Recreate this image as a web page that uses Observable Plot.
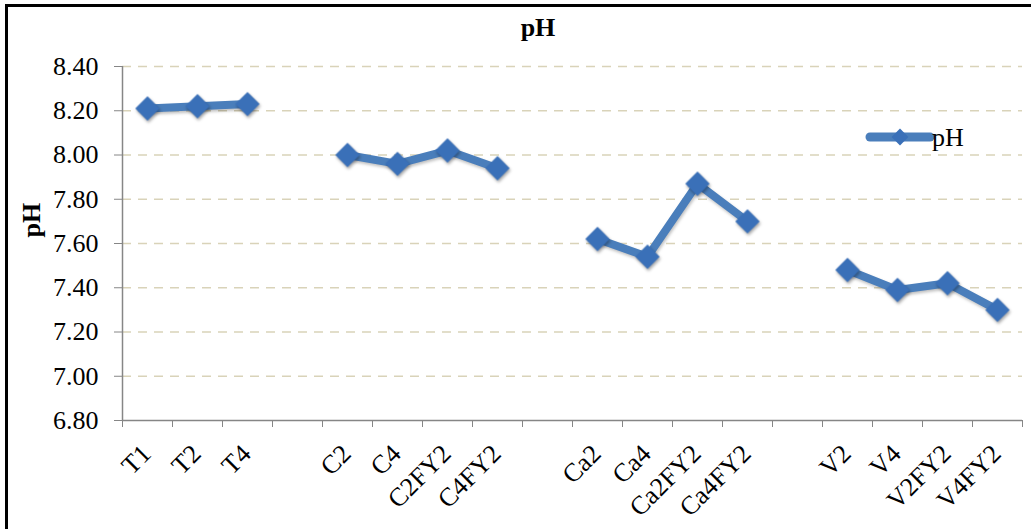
<!DOCTYPE html>
<html>
<head>
<meta charset="utf-8">
<script src="https://cdn.jsdelivr.net/npm/d3@7"></script>
<script src="https://cdn.jsdelivr.net/npm/@observablehq/plot@0.6"></script>
<style>
  html, body { margin: 0; padding: 0; background: #fff; }
  #wrap { position: relative; width: 1031px; height: 529px; overflow: hidden; background: #fff;
          font-family: 'Liberation Serif', 'Times New Roman', serif; }
  #border { position: absolute; left: 5px; top: 4px; width: 1060px; height: 560px; border: 3px solid #000; box-sizing: border-box; }
  #title { position: absolute; left: 438px; width: 200px; top: 13px; text-align: center; font-size: 26px; line-height: 30px; font-weight: bold; color: #000; }
  #chart { position: absolute; left: 0; top: 0; }
  #legend { position: absolute; left: 862px; top: 118px; }
</style>
</head>
<body>
<div id="wrap">
  <div id="border"></div>
  <div id="chart"></div>
  <div id="title">pH</div>
  <div id="legend"></div>
</div>
<script>
// ---- data ----
const categories = ["T1", "T2", "T4", "gap1", "C2", "C4", "C2FY2", "C4FY2", "gap2",
                    "Ca2", "Ca4", "Ca2FY2", "Ca4FY2", "gap3", "V2", "V4", "V2FY2", "V4FY2"];
const phValues = [8.21, 8.22, 8.23, null, 8.00, 7.96, 8.02, 7.94, null,
                  7.62, 7.54, 7.87, 7.70, null, 7.48, 7.39, 7.42, 7.30];
const yTicks = [6.8, 7.0, 7.2, 7.4, 7.6, 7.8, 8.0, 8.2, 8.4];
const seriesName = "pH";
const yLabel = "pH";

const table = categories.map((c, i) => ({cat: c, ph: phValues[i] == null ? NaN : phValues[i]}));

const W = 1031, H = 529, ML = 122, MR = 9, MT = 66, MB = 109;
const bw = (W - ML - MR) / categories.length;
const lineColor = "#4a7ebb";
const markerColor = "#3a70b8";
const axisGray = "#868686";
const isGap = d => d.startsWith("gap");
const FONT = "'Liberation Serif', 'Times New Roman', serif";

const chart = Plot.plot({
  width: W, height: H,
  marginLeft: ML, marginRight: MR, marginTop: MT, marginBottom: MB,
  style: {fontFamily: FONT, fontSize: "26px", color: "#000", background: "transparent", overflow: "visible"},
  x: {type: "band", domain: categories, padding: 0, label: null, axis: null},
  y: {domain: [6.8, 8.4], label: null},
  marks: [
    Plot.gridY(yTicks.filter(t => t > 6.8), {stroke: "#d9d3b9", strokeOpacity: 1, strokeWidth: 1.6, strokeDasharray: "9,7"}),
    Plot.ruleY([6.8], {stroke: axisGray, strokeWidth: 1.5}),
    Plot.ruleX([categories[0]], {y1: 6.8, y2: 8.4, dx: -bw / 2, stroke: axisGray, strokeWidth: 1.5}),
    Plot.axisY(yTicks, {tickSize: 8, tickPadding: 16, tickFormat: d3.format(".2f"), stroke: axisGray, fill: "#000", fontSize: 26, label: null}),
    Plot.axisX(categories, {tickSize: 7, dx: -bw / 2, tickFormat: () => "", stroke: axisGray, label: null}),
    Plot.axisX([categories[categories.length - 1]], {tickSize: 7, dx: bw / 2, tickFormat: () => "", stroke: axisGray, label: null}),
    Plot.text(categories, {x: d => d, text: d => isGap(d) ? "" : d, frameAnchor: "bottom", rotate: -45,
                           textAnchor: "end", lineAnchor: "middle", dx: -1, dy: 29, fontSize: 26, fill: "#000"}),
    Plot.text([yLabel], {frameAnchor: "left", dx: -91, dy: -6, rotate: -90, fontWeight: "bold", fontSize: 26, fill: "#000"}),
    Plot.line(table, {x: "cat", y: "ph", stroke: lineColor, strokeWidth: 8, strokeLinecap: "round", strokeLinejoin: "round",
                      imageFilter: "drop-shadow(1px 2px 1.5px rgba(0,0,0,0.25))"}),
    Plot.dot(table, {x: "cat", y: "ph", symbol: "diamond2", r: 11, fill: markerColor, stroke: "none",
                     imageFilter: "drop-shadow(1px 2px 1.5px rgba(0,0,0,0.35))"})
  ]
});
document.getElementById("chart").appendChild(chart);

// legend
const lg = d3.select("#legend").append("svg").attr("width", 120).attr("height", 40)
  .style("overflow", "visible");
lg.append("line").attr("x1", 8).attr("x2", 68).attr("y1", 19).attr("y2", 19)
  .attr("stroke", lineColor).attr("stroke-width", 9).attr("stroke-linecap", "round");
lg.append("path").attr("d", d3.symbol(d3.symbolDiamond2, 180)()).attr("transform", "translate(38,19)")
  .attr("fill", markerColor);
lg.append("text").attr("x", 70).attr("y", 28).text(seriesName)
  .style("font-family", FONT).style("font-size", "26px").attr("fill", "#000");
</script>
</body>
</html>
